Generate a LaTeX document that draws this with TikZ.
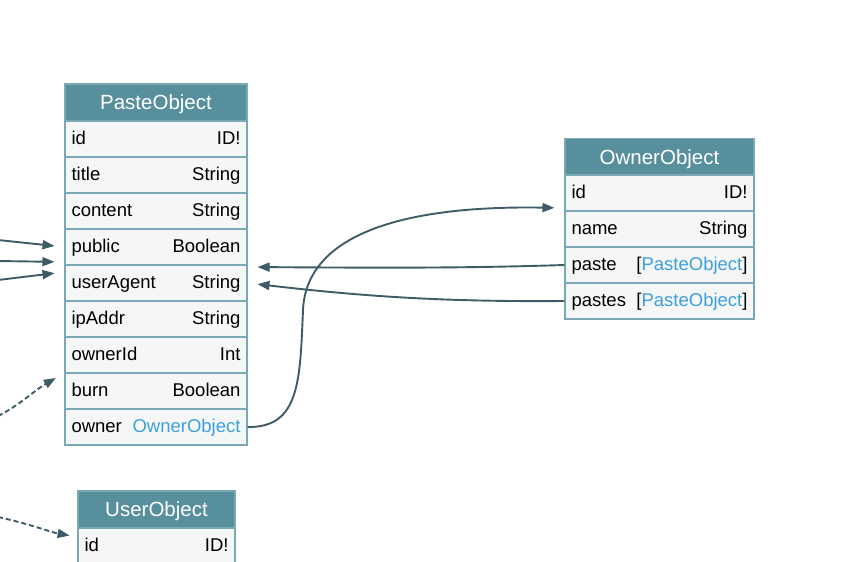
\documentclass[tikz,border=0pt]{standalone}
\usepackage{fontspec}
\setmainfont{Liberation Sans}
\usepackage{tikz}
\usetikzlibrary{arrows.meta}
\definecolor{headbg}{RGB}{88,143,157}
\definecolor{rowbg}{RGB}{245,247,247}
\definecolor{tableline}{RGB}{122,168,181}
\definecolor{edgeline}{RGB}{62,92,104}
\definecolor{typelink}{RGB}{61,159,220}
\newcommand{\tref}[1]{\textcolor{typelink}{#1}}
\tikzset{
  tablehead/.style={draw=tableline, line width=1.1pt, fill=headbg, text=white,
    minimum height=37pt, inner sep=0pt, text height=17pt, text depth=3pt,
    font=\fontsize{20.5}{24}\selectfont},
  tablefield/.style={draw=tableline, line width=1.1pt, fill=rowbg, minimum height=36pt,
    inner xsep=6.5pt, inner ysep=0pt, text height=14pt, text depth=3.5pt,
    font=\fontsize{18.5}{22}\selectfont},
  pastefield/.style={tablefield, text width=169pt},
  ownerfield/.style={tablefield, text width=176pt},
  userfield/.style={tablefield, text width=144pt},
  edge/.style={draw=edgeline, line width=1.9pt, -{Triangle[length=12pt,width=9pt]}},
}
\begin{document}
\begin{tikzpicture}[x=1pt, y=-1pt]
   \useasboundingbox (0,0) rectangle (841,562);
   % PasteObject
   \node [tablehead, minimum width=182pt] (paste) at (156,102.5) {PasteObject};
   \node [pastefield] (pid) at (156,139) {id\hfill ID!};
   \node [pastefield] (ptitle) at (156,175) {title\hfill String};
   \node [pastefield] (pcontent) at (156,211) {content\hfill String};
   \node [pastefield] (ppublic) at (156,247) {public\hfill Boolean};
   \node [pastefield] (puseragent) at (156,283) {userAgent\hfill String};
   \node [pastefield] (pipaddr) at (156,319) {ipAddr\hfill String};
   \node [pastefield] (pownerid) at (156,355) {ownerId\hfill Int};
   \node [pastefield] (pburn) at (156,391) {burn\hfill Boolean};
   \node [pastefield] (powner) at (156,427) {owner\hfill \tref{OwnerObject}};
   % OwnerObject
   \node [tablehead, minimum width=189pt] (owner) at (659.5,157) {OwnerObject};
   \node [ownerfield] (oid) at (659.5,193) {id\hfill ID!};
   \node [ownerfield] (oname) at (659.5,229) {name\hfill String};
   \node [ownerfield] (opaste) at (659.5,265) {paste\hfill [\tref{PasteObject}]};
   \node [ownerfield] (opastes) at (659.5,301) {pastes\hfill [\tref{PasteObject}]};
   % UserObject
   \node [tablehead, minimum width=157pt] (user) at (156.5,509.5) {UserObject};
   \node [userfield] (uid) at (156.5,546) {id\hfill ID!};
   % free ends on the left border
   \coordinate (in1) at (-2,240);
   \coordinate (in2) at (-2,261);
   \coordinate (in3) at (-2,280);
   \coordinate (in4) at (-2,416);
   \coordinate (in5) at (-2,517);
   \draw [edge, shorten >=10pt] (in1) -- (ppublic.west);
   \draw [edge, shorten >=10pt] (in2) -- ([yshift=-15pt]ppublic.west);
   \draw [edge, shorten >=10pt] (in3) -- ([yshift=11pt]puseragent.west);
   \draw [edge, dash pattern=on 5pt off 3pt, shorten >=10pt] (in4) .. controls (20,405) and (35,390) .. ([yshift=-18pt]pownerid.west);
   \draw [edge, dash pattern=on 5pt off 3pt, shorten >=8pt] (in5) .. controls (30,524) and (50,532) .. ([yshift=9pt]uid.west);
   % links between the tables
   \draw [edge, shorten >=10pt] (opaste.west) .. controls (470,268) and (400,268) .. ([yshift=16pt]puseragent.east);
   \draw [edge, shorten >=10pt] (opastes.west) .. controls (440,302) and (360,296) .. (puseragent.east);
   \draw [edge, shorten >=10pt] (powner.east) .. controls (300,428) and (300,380) .. (303,310)
      .. controls (306,240) and (390,205) .. ([yshift=-15pt]oid.west);
\end{tikzpicture}
\end{document}
